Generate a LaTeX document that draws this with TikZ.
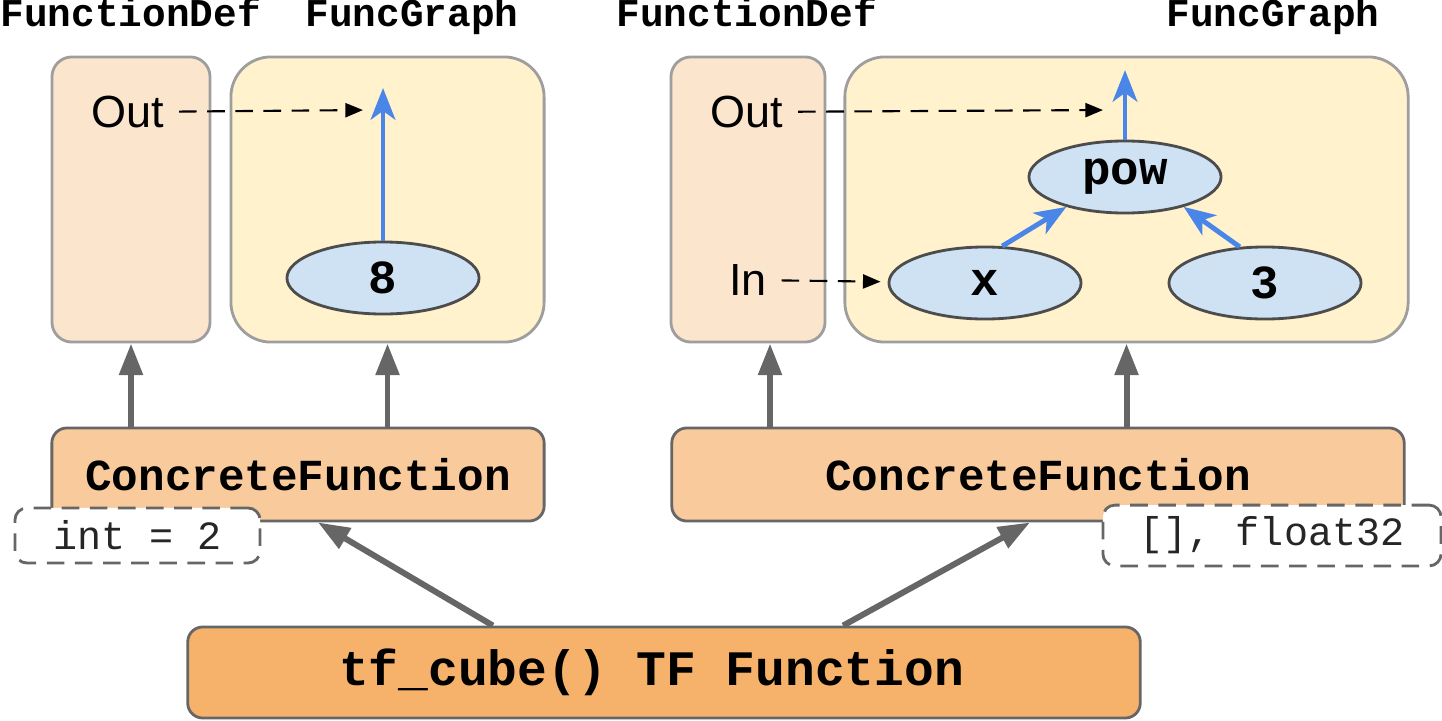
\documentclass[tikz,border=0pt]{standalone}
\usepackage{fontspec}
\setmainfont{Liberation Sans}
\setmonofont{Liberation Mono}
\usepackage{xcolor}
\usetikzlibrary{arrows.meta, positioning, shapes.geometric}

\definecolor{defbg}{HTML}{FCE5CD}
\definecolor{graphbg}{HTML}{FFF2CC}
\definecolor{cfbg}{HTML}{F9CB9C}
\definecolor{tfbg}{HTML}{F6B26B}
\definecolor{opbg}{HTML}{CFE2F3}
\definecolor{opblue}{HTML}{4A86E8}
\definecolor{rim}{HTML}{9E9E9E}
\definecolor{dark}{HTML}{666666}

\newcommand{\mono}[1]{\fontsize{#1}{#1}\selectfont\ttfamily\bfseries}

\tikzset{
  defbox/.style={draw=rim, line width=0.8pt, fill=defbg, rounded corners=0.2cm, minimum height=2.85cm},
  graphbox/.style={draw=rim, line width=0.8pt, fill=graphbg, rounded corners=0.4cm, minimum height=2.85cm},
  cfbox/.style={draw=dark, line width=0.8pt, fill=cfbg, rounded corners=0.15cm, minimum height=0.93cm, font=\mono{12.6}},
  tfbox/.style={draw=dark, line width=0.8pt, fill=tfbg, rounded corners=0.15cm, minimum height=0.91cm, minimum width=9.52cm, font=\mono{14.1}},
  sigbox/.style={draw=dark, dash pattern=on 5pt off 3pt, line width=0.8pt, fill=white, rounded corners=0.12cm, minimum height=0.55cm, text=black!85, font=\fontsize{11.4}{12}\selectfont\ttfamily},
  op/.style={ellipse, draw=black!70, line width=0.8pt, fill=opbg, minimum width=1.92cm, minimum height=0.72cm, inner sep=0pt, font=\mono{13.5}},
  flow/.style={opblue, line width=1.4pt, -{Stealth[length=9pt, width=7pt, inset=2.5pt]}},
  link/.style={black, line width=0.6pt, dash pattern=on 5pt off 3pt, shorten >=2pt, -{Triangle[length=5pt, width=4pt]}},
  feed/.style={dark, line width=1.7pt, -{Triangle[length=9pt, width=6.5pt]}},
  title/.style={anchor=base west, inner sep=0pt, font=\mono{11.2}},
  port/.style={inner sep=4pt, font=\fontsize{12.8}{13}\selectfont}
}

\begin{document}
\begin{tikzpicture}[x=0.01cm, y=-0.01cm]

  \useasboundingbox (0,0) rectangle (1442,721);

  % definition and graph panels
  \node[defbox, minimum width=1.58cm] (defL) at (131,199.5) {};
  \node[graphbox, minimum width=3.13cm] (graphL) at (387.5,199.5) {};
  \node[defbox, minimum width=1.54cm] (defR) at (748,199.5) {};
  \node[graphbox, minimum width=5.63cm] (graphR) at (1126.5,199.5) {};

  \node[title] (defLt) at (0,27) {FunctionDef};
  \node[title] (graphLt) at (305,27) {FuncGraph};
  \node[title] (defRt) at (616,27) {FunctionDef};
  \node[title] (graphRt) at (1166,27) {FuncGraph};

  \node[port] (outL) at (128,112) {Out};
  \node[port] (outR) at (747,112) {Out};
  \node[port] (inR) at (748,280) {In};

  \node[op] (eight) at (383,278) {8};
  \node[op] (pow) at (1125,177) {pow};
  \node[op] (x) at (985,283) {x};
  \node[op] (three) at (1265,283) {3};

  \coordinate (topL) at (383,88);
  \coordinate (topR) at (1125,70);
  \coordinate (dropL) at (370,110);
  \coordinate (dropR) at (1110,110);

  \draw[flow] (eight) -- (topL);
  \draw[flow] (pow) -- (topR);
  \draw[flow] (x.65) -- (pow.207);
  \draw[flow] (three.125) -- (pow.333);

  \draw[link] (outL) -- (dropL);
  \draw[link] (outR) -- (dropR);
  \draw[link] (inR) -- (x);

  % concrete functions
  \node[cfbox, minimum width=4.92cm] (cfL) at (298,474.5) {ConcreteFunction};
  \node[cfbox, minimum width=7.32cm] (cfR) at (1038,474.5) {ConcreteFunction};
  \node[tfbox] (tf) at (664,672.5) {tf\_cube() TF Function\kern0.25cm};

  \coordinate (defRfoot) at ([xshift=0.22cm]defR.south);

  \draw[feed] (defL |- cfL.north) -- (defL.south);
  \draw[feed] (graphL |- cfL.north) -- (graphL.south);
  \draw[feed] (defRfoot |- cfR.north) -- (defRfoot);
  \draw[feed] (graphR |- cfR.north) -- (graphR.south);

  \draw[feed] ([xshift=-1.71cm]tf.north) -- ([xshift=0.2cm]cfL.south);
  \draw[feed] ([xshift=1.79cm]tf.north) -- ([xshift=-0.08cm]cfR.south);

  \node[sigbox, minimum width=2.45cm] (sigL) at (137.5,535.5) {int = 2};
  \node[sigbox, minimum width=3.38cm] (sigR) at (1272,535.5) {[], float32};

\end{tikzpicture}
\end{document}
